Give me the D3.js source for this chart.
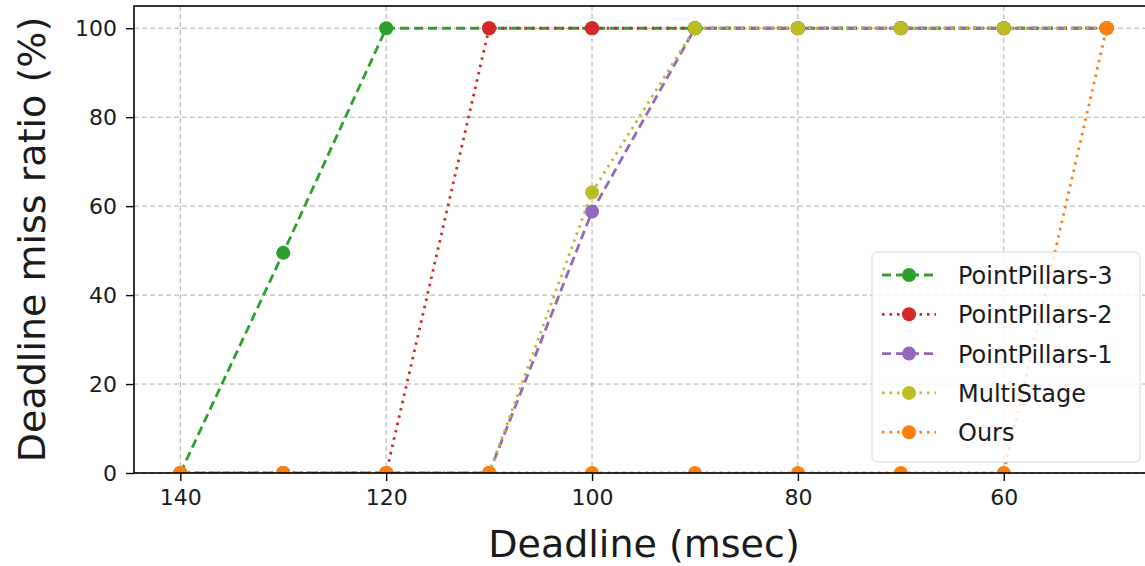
<!doctype html>
<html lang="en">
<head>
<meta charset="utf-8">
<title>Deadline miss ratio</title>
<script src="https://d3js.org/d3.v7.min.js"></script>
<style>
  body { margin: 0; background: #fff; }
  svg text { font-family: "DejaVu Sans", sans-serif; fill: #1a1a1a; }
</style>
</head>
<body>
<svg id="chart" width="1145" height="566"></svg>
<script>
// deadlines in msec (x axis runs from large to small)
var deadlines = [140, 130, 120, 110, 100, 90, 80, 70, 60, 50];

var seriesNames = ["PointPillars-3", "PointPillars-2", "PointPillars-1", "MultiStage", "Ours"];
var pp3 = [0, 49.5, 100, 100, 100, 100, 100, 100, 100, 100];
var pp2 = [0, 0, 0, 100, 100, 100, 100, 100, 100, 100];
var pp1 = [0, 0, 0, 0, 58.8, 100, 100, 100, 100, 100];
var multiStage = [0, 0, 0, 0, 63.1, 100, 100, 100, 100, 100];
var ours = [0, 0, 0, 0, 0, 0, 0, 0, 0, 100];

var xTicks = [140, 120, 100, 80, 60];
var yTicks = [0, 20, 40, 60, 80, 100];

var colors = ["#2ca02c", "#d62728", "#9467bd", "#bcbd22", "#ff7f0e"];
var dashes = ["9,5", "2.5,5", "9,5", "2.5,5", "2.5,5"];
var allValues = [pp3, pp2, pp1, multiStage, ours];

var svg = d3.select("#chart");
var pLeft = 134, pRight = 1153, pTop = 6, pBottom = 473;

var x = d3.scaleLinear().domain([144.5, 45.5]).range([pLeft, pRight]);
var y = d3.scaleLinear().domain([0, 105]).range([pBottom, pTop]);

svg.append("defs").append("clipPath").attr("id", "plotclip")
  .append("rect").attr("x", pLeft).attr("y", pTop).attr("width", pRight - pLeft).attr("height", pBottom - pTop);

// grid
var grid = svg.append("g");
grid.selectAll(".gx").data(xTicks).enter().append("line")
  .attr("x1", d => x(d)).attr("x2", d => x(d)).attr("y1", pTop).attr("y2", pBottom)
  .attr("stroke", "#b0b0b0").attr("stroke-width", 1).attr("stroke-dasharray", "5,3");
grid.selectAll(".gy").data(yTicks).enter().append("line")
  .attr("x1", pLeft).attr("x2", pRight).attr("y1", d => y(d)).attr("y2", d => y(d))
  .attr("stroke", "#b0b0b0").attr("stroke-width", 1).attr("stroke-dasharray", "5,3");

// series
var plot = svg.append("g").attr("clip-path", "url(#plotclip)");
var line = d3.line().x((d, i) => x(deadlines[i])).y(d => y(d));

allValues.forEach(function(vals, k) {
  var g = plot.append("g");
  g.append("path").datum(vals).attr("d", line)
    .attr("fill", "none").attr("stroke", colors[k]).attr("stroke-width", 2.8)
    .attr("stroke-dasharray", dashes[k]);
  g.selectAll("circle").data(vals).enter().append("circle")
    .attr("cx", (d, i) => x(deadlines[i])).attr("cy", d => y(d)).attr("r", 7)
    .attr("fill", colors[k]);
});

// axes
var xAxis = svg.append("g").attr("transform", "translate(0," + pBottom + ")")
  .call(d3.axisBottom(x).tickValues(xTicks).tickSize(8).tickPadding(8).tickSizeOuter(0));
var yAxis = svg.append("g").attr("transform", "translate(" + pLeft + ",0)")
  .call(d3.axisLeft(y).tickValues(yTicks).tickSize(8).tickPadding(9).tickSizeOuter(0));
[xAxis, yAxis].forEach(function(a) {
  a.attr("font-size", null).attr("font-family", null);
  a.select(".domain").remove();
  a.selectAll("line").attr("stroke", "#000").attr("stroke-width", 1.4);
  a.selectAll("text").style("font-size", "22px").attr("fill", "#1a1a1a");
});

// frame
svg.append("rect").attr("x", pLeft).attr("y", pTop).attr("width", pRight - pLeft).attr("height", pBottom - pTop)
  .attr("fill", "none").attr("stroke", "#000").attr("stroke-width", 1.6);

// labels
svg.append("text").attr("x", 644).attr("y", 557)
  .attr("text-anchor", "middle").style("font-size", "38px").text("Deadline (msec)");
svg.append("text").attr("transform", "translate(45," + ((pTop + pBottom) / 2) + ") rotate(-90)")
  .attr("text-anchor", "middle").style("font-size", "38px").text("Deadline miss ratio (%)");

// legend
var lg = svg.append("g");
lg.append("rect").attr("x", 872).attr("y", 252).attr("width", 268).attr("height", 210)
  .attr("rx", 5).attr("fill", "#fff").attr("fill-opacity", 0.8).attr("stroke", "#d6d6d6");
seriesNames.forEach(function(name, k) {
  var cy = 275 + k * 39.3;
  lg.append("line").attr("x1", 882).attr("x2", 936).attr("y1", cy).attr("y2", cy)
    .attr("stroke", colors[k]).attr("stroke-width", 2.8).attr("stroke-dasharray", dashes[k]);
  lg.append("circle").attr("cx", 909).attr("cy", cy).attr("r", 7).attr("fill", colors[k]);
  lg.append("text").attr("x", 958).attr("y", cy + 9).style("font-size", "24px").text(name);
});
</script>
</body>
</html>
